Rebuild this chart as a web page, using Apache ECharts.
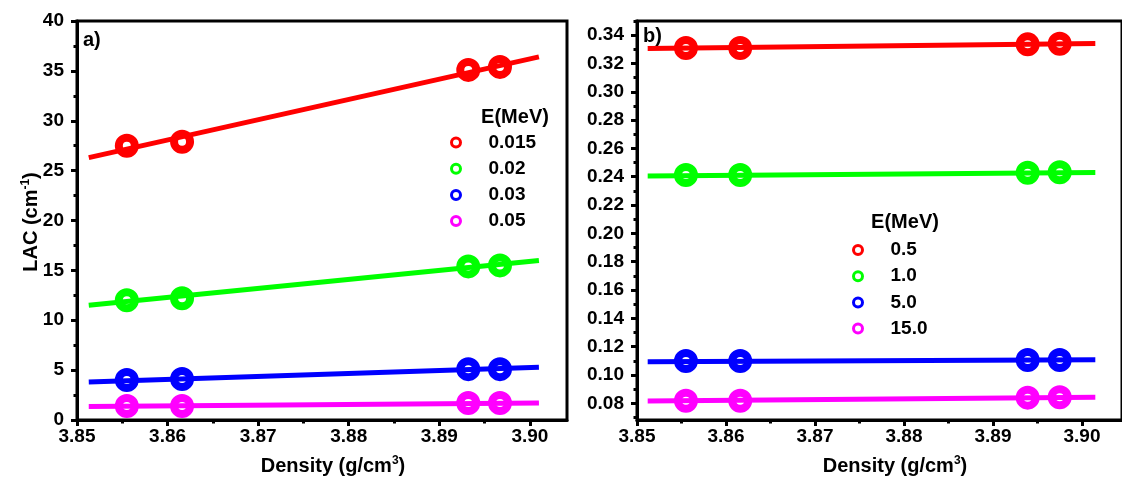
<!DOCTYPE html>
<html>
<head>
<meta charset="utf-8">
<script src="https://cdn.jsdelivr.net/npm/echarts@6/dist/echarts.min.js"></script>
<style>html,body{margin:0;padding:0;background:#fff;}#c{width:1122px;height:477px;}</style>
</head>
<body>
<div id="c"></div>
<script>
// ---- data ----
var densityA = [3.8555, 3.8616, 3.8932, 3.8967];
var densityB = [3.8555, 3.8616, 3.8939, 3.8975];
var fitXA = [3.8513, 3.9010];
var fitXB = [3.8512, 3.9015];

var namesA = ['0.015', '0.02', '0.03', '0.05'];
var lacA_0015 = [27.5, 27.9, 35.1, 35.4];
var lacA_002 = [12.0, 12.2, 15.4, 15.5];
var lacA_003 = [4.0, 4.1, 5.1, 5.1];
var lacA_005 = [1.4, 1.4, 1.7, 1.7];
var fitA_0015 = [26.3, 36.4];
var fitA_002 = [11.5, 16.0];
var fitA_003 = [3.8, 5.3];
var fitA_005 = [1.35, 1.7];

var namesB = ['0.5', '1.0', '5.0', '15.0'];
var lacB_05 = [0.331, 0.331, 0.3335, 0.334];
var lacB_10 = [0.2412, 0.2412, 0.2428, 0.2432];
var lacB_50 = [0.1098, 0.1098, 0.1105, 0.1106];
var lacB_150 = [0.0818, 0.0818, 0.0840, 0.0842];
var fitB_05 = [0.3306, 0.3341];
var fitB_10 = [0.2405, 0.2430];
var fitB_50 = [0.1093, 0.1107];
var fitB_150 = [0.0816, 0.0842];

var xTicks = [3.85, 3.86, 3.87, 3.88, 3.89, 3.90];
var xMinorTicks = [3.855, 3.865, 3.875, 3.885, 3.895];
var yTicksB = [0.08, 0.10, 0.12, 0.14, 0.16, 0.18, 0.20, 0.22, 0.24, 0.26, 0.28, 0.30, 0.32, 0.34];
var yMinorTicksB = [0.07, 0.09, 0.11, 0.13, 0.15, 0.17, 0.19, 0.21, 0.23, 0.25, 0.27, 0.29, 0.31, 0.33, 0.35];

var colors = ['#ff0000', '#00ff00', '#0000ff', '#ff00ff'];

// ---- build ----
var FONT = 'Liberation Sans';
function zip(xs, ys) { return xs.map(function (x, i) { return [x, ys[i]]; }); }

var series = [];
function addPanel(xIdx, yIdx, dens, fitX, names, pts, fits) {
  for (var i = 0; i < names.length; i++) {
    series.push({
      type: 'line', xAxisIndex: xIdx, yAxisIndex: yIdx,
      data: zip(fitX, fits[i]), symbol: 'none', silent: true,
      lineStyle: { color: colors[i], width: 5 }, z: 2
    });
    series.push({
      type: 'scatter', name: names[i], xAxisIndex: xIdx, yAxisIndex: yIdx,
      data: zip(dens, pts[i]), symbol: 'circle', symbolSize: 16,
      itemStyle: { color: 'transparent', borderColor: colors[i], borderWidth: 8, opacity: 1 },
      z: 3
    });
  }
}
addPanel(0, 0, densityA, fitXA, namesA, [lacA_0015, lacA_002, lacA_003, lacA_005], [fitA_0015, fitA_002, fitA_003, fitA_005]);
addPanel(2, 1, densityB, fitXB, namesB, [lacB_05, lacB_10, lacB_50, lacB_150], [fitB_05, fitB_10, fitB_50, fitB_150]);

var labelStyle = { color: '#000', fontFamily: FONT, fontWeight: 'bold', fontSize: 19 };
var axisLineStyle = { lineStyle: { color: '#000', width: 3 } };

function mainX(grid, max) {
  return {
    type: 'value', gridIndex: grid, min: 3.85, max: max, position: 'bottom',
    axisLine: axisLineStyle, splitLine: { show: false },
    axisTick: { customValues: xTicks, length: 6, lineStyle: { color: '#000', width: 3 } },
    axisLabel: Object.assign({ customValues: xTicks, margin: 7, formatter: function (v) { return v.toFixed(2); } }, labelStyle)
  };
}
function minorX(grid, max) {
  return {
    type: 'value', gridIndex: grid, min: 3.85, max: max, position: 'bottom',
    axisLine: { show: false }, splitLine: { show: false }, axisLabel: { show: false },
    axisTick: { customValues: xMinorTicks, length: 3.5, lineStyle: { color: '#000', width: 3 } }
  };
}

var legendText = Object.assign({ lineHeight: 18, padding: [0, 0, 0, 23] }, labelStyle);
var titleFont = 'bold 20px "Liberation Sans"';
var richAxis = {
  m: { fontFamily: FONT, fontWeight: 'bold', fontSize: 20, lineHeight: 22, fill: '#000' },
  s: { fontFamily: FONT, fontWeight: 'bold', fontSize: 12, lineHeight: 12, verticalAlign: 'top', fill: '#000' }
};

var option = {
  animation: false,
  backgroundColor: '#fff',
  grid: [
    { left: 77, top: 21, width: 490, height: 399, show: true, borderColor: '#000', borderWidth: 3, backgroundColor: 'transparent' },
    { left: 637, top: 21, width: 488, height: 399, show: true, borderColor: '#000', borderWidth: 3, backgroundColor: 'transparent' }
  ],
  xAxis: [mainX(0, 3.9041), minorX(0, 3.9041), mainX(1, 3.9045), minorX(1, 3.9045)],
  yAxis: [
    {
      type: 'value', gridIndex: 0, min: 0, max: 40, interval: 5,
      axisLine: axisLineStyle, splitLine: { show: false },
      axisTick: { length: 6, lineStyle: { color: '#000', width: 3 } },
      minorTick: { show: true, splitNumber: 2, length: 3.5, lineStyle: { color: '#000', width: 3 } },
      minorSplitLine: { show: false },
      axisLabel: Object.assign({ margin: 13 }, labelStyle)
    },
    {
      type: 'value', gridIndex: 1, min: 0.0682, max: 0.35, position: 'left',
      axisLine: axisLineStyle, splitLine: { show: false },
      axisTick: { customValues: yTicksB, length: 6, lineStyle: { color: '#000', width: 3 } },
      axisLabel: Object.assign({ customValues: yTicksB, margin: 13, formatter: function (v) { return v.toFixed(2); } }, labelStyle)
    },
    {
      type: 'value', gridIndex: 1, min: 0.0682, max: 0.35, position: 'left',
      axisLine: { show: false }, splitLine: { show: false }, axisLabel: { show: false },
      axisTick: { customValues: yMinorTicksB, length: 3.5, lineStyle: { color: '#000', width: 3 } }
    }
  ],
  legend: [
    {
      data: namesA, orient: 'vertical', left: 450, top: 133, padding: 0, icon: 'circle',
      itemWidth: 9, itemHeight: 9, itemGap: 7.2, itemStyle: { borderWidth: 3 },
      textStyle: legendText, selectedMode: false
    },
    {
      data: namesB, orient: 'vertical', left: 852, top: 240.5, padding: 0, icon: 'circle',
      itemWidth: 9, itemHeight: 9, itemGap: 7.2, itemStyle: { borderWidth: 3 },
      textStyle: legendText, selectedMode: false
    }
  ],
  graphic: [
    { type: 'text', left: 83, top: 30, style: { text: 'a)', fill: '#000', font: titleFont } },
    { type: 'text', left: 643, top: 26, style: { text: 'b)', fill: '#000', font: titleFont } },
    { type: 'text', x: 515, y: 117, style: { text: 'E(MeV)', fill: '#000', font: titleFont, align: 'center', verticalAlign: 'middle' } },
    { type: 'text', x: 905, y: 222, style: { text: 'E(MeV)', fill: '#000', font: titleFont, align: 'center', verticalAlign: 'middle' } },
    {
      type: 'text', x: 31, y: 222, rotation: Math.PI / 2,
      style: { text: '{m|LAC (cm}{s|-1}{m|)}', align: 'center', verticalAlign: 'middle', rich: richAxis }
    },
    {
      type: 'text', x: 333, y: 466,
      style: { text: '{m|Density (g/cm}{s|3}{m|)}', align: 'center', verticalAlign: 'middle', rich: richAxis }
    },
    {
      type: 'text', x: 895, y: 466,
      style: { text: '{m|Density (g/cm}{s|3}{m|)}', align: 'center', verticalAlign: 'middle', rich: richAxis }
    }
  ],
  series: series
};

var chart = echarts.init(document.getElementById('c'), null, { renderer: 'canvas' });
chart.setOption(option);
</script>
</body>
</html>
